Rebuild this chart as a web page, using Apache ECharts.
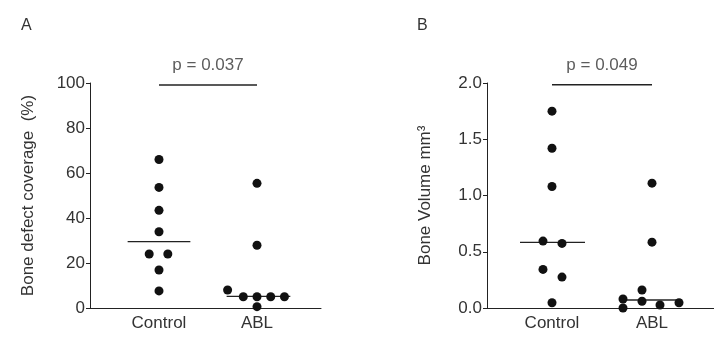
<!DOCTYPE html>
<html>
<head>
<meta charset="utf-8">
<script src="https://cdn.jsdelivr.net/npm/echarts@6/dist/echarts.min.js"></script>
<style>
  html, body { margin: 0; padding: 0; background: #fff; }
  #chart { width: 714px; height: 338px; }
</style>
</head>
<body>
<div id="chart"></div>
<script>
// groups on the x axis (Control = 1, ABL = 2)
const groups = ["Control", "ABL"];

// Panel A: bone defect coverage (%)
const coverageControl = [66, 53.6, 43.4, 33.9, 24, 24, 16.9, 7.6];
const coverageControlJitter = [0, 0, 0, 0, -0.1, 0.09, 0, 0];
const coverageAbl = [55.4, 27.9, 8, 5, 5, 5, 5, 0.6];
const coverageAblJitter = [0, 0, -0.3, -0.14, 0, 0.14, 0.28, 0];
const coverageMedians = [29.5, 5.2];
const coverageTicks = [0, 20, 40, 60, 80, 100];
const coverageP = "p = 0.037";

// Panel B: bone volume mm3
const volumeControl = [1.75, 1.42, 1.08, 0.595, 0.574, 0.343, 0.275, 0.047];
const volumeControlJitter = [0, 0, 0, -0.09, 0.1, -0.09, 0.1, 0];
const volumeAbl = [1.11, 0.585, 0.16, 0.08, 0.06, 0.027, 0.047, 0];
const volumeAblJitter = [0, 0, -0.1, -0.29, -0.1, 0.08, 0.27, -0.29];
const volumeMedians = [0.583, 0.071];
const volumeTicks = [0, 0.5, 1.0, 1.5, 2.0];
const volumeP = "p = 0.049";

const font = "Liberation Sans, Arial, sans-serif";
const ink = "#222";
const textInk = "#333";
const fs = 17;

function pts(vals, jitter, pos) {
  return vals.map((v, i) => [pos + jitter[i], v]);
}

function yAxisFor(idx, name, ticks, fmt) {
  return {
    type: "value",
    gridIndex: idx,
    min: ticks[0],
    max: ticks[ticks.length - 1],
    interval: ticks[1] - ticks[0],
    name: name,
    nameLocation: "middle",
    nameGap: 53,
    nameTextStyle: { fontFamily: font, fontSize: fs, color: textInk },
    axisLine: { show: true, lineStyle: { color: ink, width: 1 } },
    axisTick: { show: true, length: 4, lineStyle: { color: ink } },
    axisLabel: { fontFamily: font, fontSize: fs, color: textInk, margin: 5, formatter: fmt },
    splitLine: { show: false }
  };
}

function xAxisFor(idx, min, max) {
  return {
    type: "value",
    gridIndex: idx,
    min: min,
    max: max,
    axisLine: { show: true, lineStyle: { color: ink, width: 1 } },
    axisTick: { show: false },
    splitLine: { show: false },
    axisLabel: {
      customValues: [1, 2],
      formatter: (v) => groups[Math.round(v) - 1],
      fontFamily: font, fontSize: fs, color: textInk, margin: 7
    }
  };
}

function dots(idx, data) {
  return {
    type: "scatter",
    xAxisIndex: idx, yAxisIndex: idx,
    data: data,
    symbolSize: 9,
    itemStyle: { color: "#111", opacity: 1 },
    clip: false,
    z: 3
  };
}

function hline(idx, x0, x1, y, width) {
  return {
    type: "line",
    xAxisIndex: idx, yAxisIndex: idx,
    data: [[x0, y], [x1, y]],
    symbol: "none",
    lineStyle: { color: ink, width: width },
    clip: false,
    silent: true,
    z: 2
  };
}

function pLabel(idx, y, text) {
  return {
    type: "scatter",
    xAxisIndex: idx, yAxisIndex: idx,
    data: [[1.5, y]],
    symbolSize: 0,
    clip: false,
    silent: true,
    label: {
      show: true, position: "top", distance: 11,
      formatter: text,
      fontFamily: font, fontSize: fs, color: textInk
    }
  };
}

const chart = echarts.init(document.getElementById("chart"));
chart.setOption({
  animation: false,
  backgroundColor: "#fff",
  title: [
    { text: "A", left: 16, top: 13, textStyle: { fontFamily: font, fontSize: 16, fontWeight: "normal", color: textInk } },
    { text: "B", left: 412, top: 13, textStyle: { fontFamily: font, fontSize: 16, fontWeight: "normal", color: textInk } }
  ],
  grid: [
    { left: 90, right: 393, top: 83, bottom: 30 },
    { left: 487, right: 0, top: 83, bottom: 30 }
  ],
  xAxis: [xAxisFor(0, 0.296, 2.653), xAxisFor(1, 0.35, 2.62)],
  yAxis: [
    yAxisFor(0, "Bone defect coverage  (%)", coverageTicks, (v) => String(v)),
    yAxisFor(1, "Bone Volume mm\u00B3", volumeTicks, (v) => v.toFixed(1))
  ],
  series: [
    dots(0, pts(coverageControl, coverageControlJitter, 1)),
    dots(0, pts(coverageAbl, coverageAblJitter, 2)),
    hline(0, 1 - 0.32, 1 + 0.32, coverageMedians[0], 1.3),
    hline(0, 2 - 0.31, 2 + 0.34, coverageMedians[1], 1.3),
    hline(0, 1, 2, 99.1, 1.6),
    pLabel(0, 99.1, coverageP),

    dots(1, pts(volumeControl, volumeControlJitter, 1)),
    dots(1, pts(volumeAbl, volumeAblJitter, 2)),
    hline(1, 1 - 0.32, 1 + 0.33, volumeMedians[0], 1.3),
    hline(1, 2 - 0.32, 2 + 0.30, volumeMedians[1], 1.3),
    hline(1, 1, 2, 1.985, 1.6),
    pLabel(1, 1.985, volumeP)
  ]
});
</script>
</body>
</html>
